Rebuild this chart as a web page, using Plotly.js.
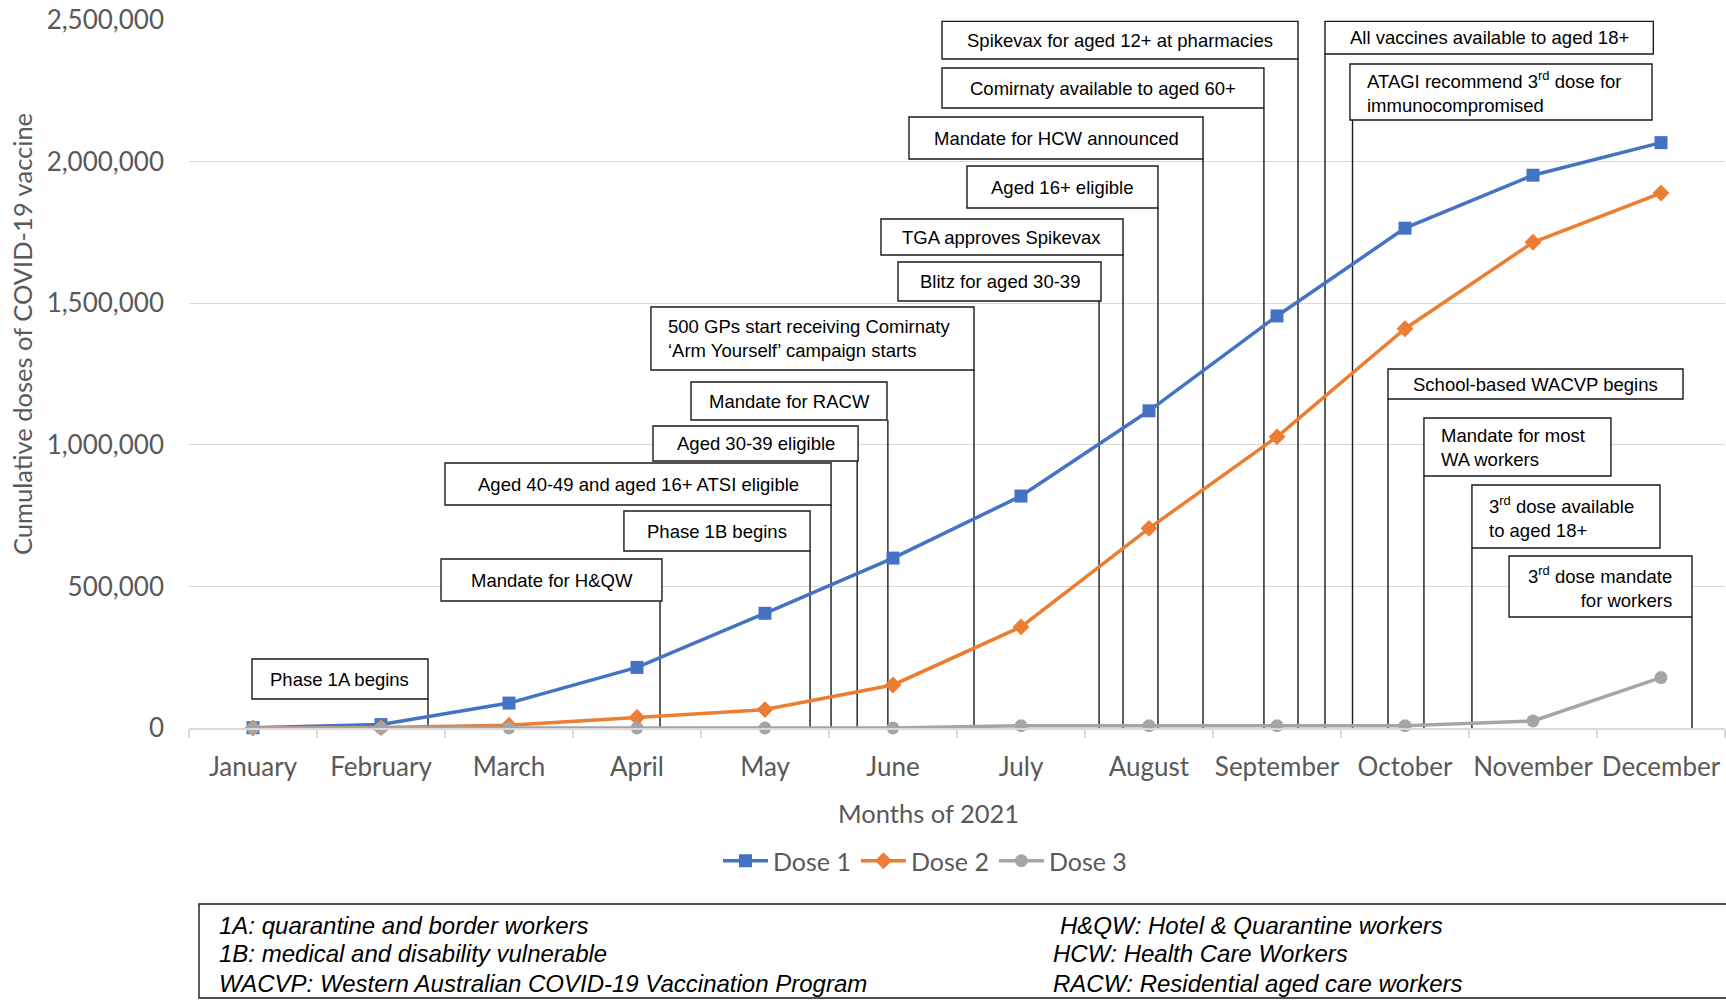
<!DOCTYPE html>
<html>
<head>
<meta charset="utf-8">
<script src="https://cdn.plot.ly/plotly-3.0.1.min.js"></script>
<style>
  html, body { margin: 0; padding: 0; background: #fff; }
  #chart { width: 1726px; height: 1000px; }
</style>
</head>
<body>
<div id="chart"></div>
<script>
// ---------------- DATA ----------------
const months = ['January', 'February', 'March', 'April', 'May', 'June',
  'July', 'August', 'September', 'October', 'November', 'December'];

const dose1 = [1000, 12000, 88000, 214000, 405000, 600000, 819000, 1120000, 1455000, 1765000, 1952000, 2067000];
const dose2 = [0, 2000, 10000, 37000, 65000, 152000, 357000, 705000, 1028000, 1410000, 1715000, 1889000];
const dose3 = [0, 0, 0, 0, 0, 0, 8000, 8000, 8000, 8000, 25000, 178000];

const seriesNames = ['Dose 1', 'Dose 2', 'Dose 3'];

const yTicks = [0, 500000, 1000000, 1500000, 2000000, 2500000];

// Event labels and the date (in month units, January = 0) each one points to
const eventText = [
  'Phase 1A begins',
  'Mandate for H&amp;QW',
  'Aged 40-49 and aged 16+ ATSI eligible',
  'Phase 1B begins',
  'Aged 30-39 eligible',
  'Mandate for RACW',
  '500 GPs start receiving Comirnaty<br>‘Arm Yourself’ campaign starts',
  'Blitz for aged 30-39',
  'TGA approves Spikevax',
  'Aged 16+ eligible',
  'Mandate for HCW announced',
  'Comirnaty available to aged 60+',
  'Spikevax for aged 12+ at pharmacies',
  'All vaccines available to aged 18+',
  'ATAGI recommend 3<sup>rd</sup> dose for<br>immunocompromised',
  'School-based WACVP begins',
  'Mandate for most<br>WA workers',
  '3<sup>rd</sup> dose available<br>to aged 18+',
  '3<sup>rd</sup> dose mandate<br>for workers'
];
const eventDate = [1.367, 3.18, 4.516, 4.352, 4.72, 4.96, 5.633, 6.61, 6.797, 7.07,
  7.422, 7.898, 8.164, 8.375, 8.59, 8.867, 9.148, 9.523, 11.242];

const footLeft = [
  '1A: quarantine and border workers',
  '1B: medical and disability vulnerable',
  'WACVP: Western Australian COVID-19 Vaccination Program'
];
const footRight = [
  'H&amp;QW: Hotel &amp; Quarantine workers',
  'HCW: Health Care Workers',
  'RACW: Residential aged care workers'
];

// ---------------- LAYOUT OF CALLOUT BOXES (left, right, top, bottom, text align) ----------------
const boxPlacement = [
  [-0.008, 1.367, 243600, 102400, 'center'],
  [1.469, 3.195, 596700, 448400, 'center'],
  [1.5, 4.516, 935700, 787400, 'center'],
  [2.898, 4.352, 766200, 625000, 'center'],
  [3.125, 4.727, 1066400, 942800, 'center'],
  [3.422, 4.953, 1221700, 1087500, 'center'],
  [3.109, 5.633, 1486600, 1264100, 'left'],
  [5.039, 6.625, 1645400, 1507700, 'center'],
  [4.906, 6.797, 1797300, 1670200, 'center'],
  [5.578, 7.07, 1984400, 1836100, 'center'],
  [5.125, 7.422, 2157400, 2009100, 'center'],
  [5.383, 7.898, 2330500, 2189200, 'center'],
  [5.383, 8.164, 2495000, 2362200, 'center'],
  [8.375, 10.94, 2495000, 2379900, 'center'],
  [8.57, 10.93, 2344600, 2146800, 'left'],
  [8.867, 11.172, 1267600, 1161700, 'center'],
  [9.148, 10.609, 1094600, 889800, 'left'],
  [9.523, 10.992, 858000, 635600, 'left'],
  [9.813, 11.242, 607300, 391900, 'right']
];

// ---------------- BUILD ----------------
const tickFont = { family: 'Lato, "Open Sans", sans-serif', size: 26, color: '#595959' };
const titleFont = { family: 'Lato, "Open Sans", sans-serif', size: 25.5, color: '#595959' };
const legendFont = { family: 'Lato, "Open Sans", sans-serif', size: 25, color: '#595959' };
const boxFont = { family: '"Liberation Sans", Arial, sans-serif', size: 18.5, color: '#000000' };
const footFont = { family: '"Liberation Sans", Arial, sans-serif', size: 24, color: '#000000' };

const traces = [
  {
    x: months, y: dose1, name: seriesNames[0], type: 'scatter', mode: 'lines+markers',
    line: { color: '#4472C4', width: 3.5 },
    marker: { symbol: 'square', size: 13, color: '#4472C4' },
    cliponaxis: false
  },
  {
    x: months, y: dose2, name: seriesNames[1], type: 'scatter', mode: 'lines+markers',
    line: { color: '#ED7D31', width: 3.5 },
    marker: { symbol: 'diamond', size: 13, color: '#ED7D31' },
    cliponaxis: false
  },
  {
    x: months, y: dose3, name: seriesNames[2], type: 'scatter', mode: 'lines+markers',
    line: { color: '#A5A5A5', width: 3.5 },
    marker: { symbol: 'circle', size: 13, color: '#A5A5A5' },
    cliponaxis: false
  }
];

const shapes = [];
const annotations = [];

boxPlacement.forEach((b, i) => {
  const [L, R, T, B, align] = b;
  shapes.push({
    type: 'rect', xref: 'x', yref: 'y', x0: L, x1: R, y0: B, y1: T,
    fillcolor: '#ffffff', line: { color: '#1a1a1a', width: 1.4 }, layer: 'between'
  });
  shapes.push({
    type: 'line', xref: 'x', yref: 'y', x0: eventDate[i], x1: eventDate[i], y0: B, y1: 0,
    line: { color: '#1a1a1a', width: 1.4 }, layer: 'between'
  });
  const ann = {
    xref: 'x', yref: 'y', y: (T + B) / 2, yanchor: 'middle',
    text: eventText[i], showarrow: false, font: boxFont, align: align
  };
  if (align === 'left') { ann.x = L; ann.xanchor = 'left'; ann.xshift = 15; }
  else if (align === 'right') { ann.x = R; ann.xanchor = 'right'; ann.xshift = -18; }
  else { ann.x = (L + R) / 2; ann.xanchor = 'center'; }
  annotations.push(ann);
});

// pixel -> paper helpers for page furniture (plot area: x 189..1725, y 20..728)
const PL = 189, PW = 1536, PB = 728, PH = 708;
const px = v => (v - PL) / PW;
const py = v => (PB - v) / PH;

// axis titles
annotations.push({
  xref: 'paper', yref: 'paper', x: px(928), y: py(813), xanchor: 'center', yanchor: 'middle',
  text: 'Months of 2021', showarrow: false, font: titleFont
});
annotations.push({
  xref: 'paper', yref: 'paper', x: px(22), y: py(334), xanchor: 'center', yanchor: 'middle',
  text: 'Cumulative doses of COVID-19 vaccine', textangle: -90, showarrow: false, font: titleFont
});

// footnote box
shapes.push({
  type: 'rect', xref: 'paper', yref: 'paper', x0: px(199), x1: px(1740), y0: py(998), y1: py(904),
  line: { color: '#1a1a1a', width: 1.4 }, fillcolor: 'rgba(0,0,0,0)', layer: 'above'
});
const footY = [925, 954, 983];
const footRightX = [1058, 1051, 1051];
footLeft.forEach((t, i) => {
  annotations.push({
    xref: 'paper', yref: 'paper', x: px(217), y: py(footY[i]), xanchor: 'left', yanchor: 'middle',
    text: '<i>' + t + '</i>', showarrow: false, font: footFont
  });
});
footRight.forEach((t, i) => {
  annotations.push({
    xref: 'paper', yref: 'paper', x: px(footRightX[i]), y: py(footY[i]), xanchor: 'left', yanchor: 'middle',
    text: '<i>' + t + '</i>', showarrow: false, font: footFont
  });
});

const layout = {
  width: 1726, height: 1000,
  margin: { l: 189, r: 1, t: 20, b: 272 },
  paper_bgcolor: '#ffffff', plot_bgcolor: '#ffffff',
  showlegend: true,
  legend: {
    orientation: 'h', x: px(925), y: py(861), xanchor: 'center', yanchor: 'middle',
    font: legendFont, itemwidth: 45, bgcolor: 'rgba(0,0,0,0)', traceorder: 'normal'
  },
  xaxis: {
    type: 'category', categoryorder: 'array', categoryarray: months,
    range: [-0.5, 11.5], tickson: 'boundaries', showgrid: false,
    showline: true, linecolor: '#D9D9D9', linewidth: 1.5,
    ticks: 'outside', ticklen: 8, tickcolor: '#D9D9D9', tickwidth: 1.3,
    tickangle: 0, automargin: false,
    tickfont: tickFont, ticklabelstandoff: 15, zeroline: false, fixedrange: true
  },
  yaxis: {
    range: [0, 2500000], tickvals: yTicks, tickformat: ',d',
    showgrid: true, gridcolor: '#D9D9D9', gridwidth: 1.3,
    showline: false, zeroline: false, ticks: '',
    tickfont: tickFont, ticklabelstandoff: 24, fixedrange: true
  },
  shapes: shapes,
  annotations: annotations
};

Plotly.newPlot('chart', traces, layout, { displayModeBar: false, staticPlot: true });
</script>
</body>
</html>
